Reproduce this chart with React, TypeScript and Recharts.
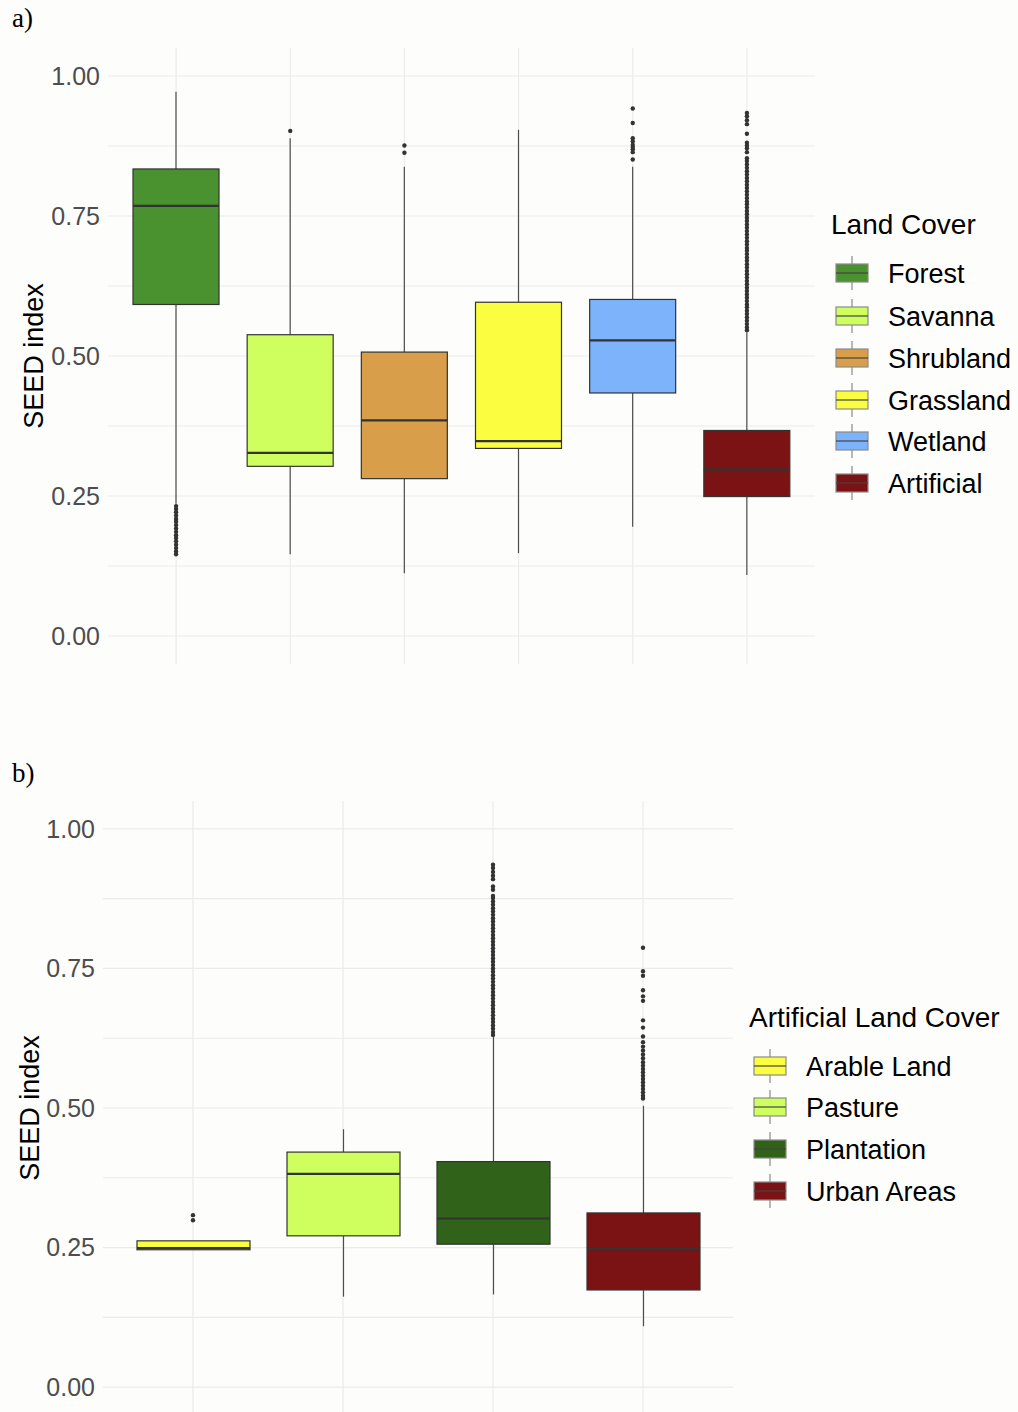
import React from "react";
import { ComposedChart, Bar, Scatter, XAxis, YAxis, CartesianGrid } from "recharts";

const FONT = '"Liberation Sans", Arial, sans-serif';
const TICKS = [0, 0.125, 0.25, 0.375, 0.5, 0.625, 0.75, 0.875, 1];
const MAJOR = [0, 0.25, 0.5, 0.75, 1];

// a) land cover
const landNames = ["Forest", "Savanna", "Shrubland", "Grassland", "Wetland", "Artificial"];
const landColors = ["#4a912f", "#cfff5f", "#d99e4a", "#fbfd40", "#7db3fa", "#7b1314"];
const landMin = [0.236, 0.146, 0.112, 0.148, 0.195, 0.109];
const landQ1 = [0.592, 0.303, 0.281, 0.335, 0.434, 0.249];
const landMedian = [0.768, 0.327, 0.385, 0.348, 0.528, 0.297];
const landQ3 = [0.834, 0.538, 0.507, 0.596, 0.601, 0.367];
const landMax = [0.972, 0.889, 0.838, 0.904, 0.838, 0.542];

const forestOutliers = [0.232, 0.227, 0.221, 0.215, 0.209, 0.204, 0.198, 0.192, 0.186, 0.18, 0.175, 0.169, 0.163, 0.157, 0.151, 0.146];
const savannaOutliers = [0.902];
const shrublandOutliers = [0.876, 0.863];
const grasslandOutliers: number[] = [];
const wetlandOutliers = [0.942, 0.916, 0.889, 0.883, 0.877, 0.873, 0.869, 0.864, 0.851];
const artificialOutliers = [
  0.934, 0.928, 0.921, 0.914, 0.897, 0.881, 0.876, 0.871, 0.864,
  0.853, 0.848, 0.842, 0.836, 0.83, 0.824, 0.818, 0.812, 0.806, 0.8, 0.794, 0.788, 0.782,
  0.776, 0.771, 0.765, 0.759, 0.753, 0.747, 0.741, 0.735, 0.729, 0.723, 0.717, 0.711,
  0.705, 0.699, 0.693, 0.688, 0.682, 0.676, 0.67, 0.664, 0.658, 0.652, 0.646, 0.64,
  0.634, 0.628, 0.622, 0.616, 0.61, 0.604, 0.598, 0.592, 0.587, 0.581, 0.575, 0.569,
  0.563, 0.557, 0.551, 0.546,
];

// b) artificial land cover
const artNames = ["Arable Land", "Pasture", "Plantation", "Urban Areas"];
const artColors = ["#fbfd40", "#cfff5f", "#31621a", "#7b1314"];
const artMin = [0.246, 0.162, 0.166, 0.109];
const artQ1 = [0.246, 0.271, 0.256, 0.174];
const artMedian = [0.249, 0.382, 0.302, 0.247];
const artQ3 = [0.262, 0.421, 0.404, 0.312];
const artMax = [0.262, 0.462, 0.628, 0.504];

const arableOutliers = [0.308, 0.299];
const pastureOutliers: number[] = [];
const plantationOutliers = [
  0.936, 0.93, 0.923, 0.916, 0.91, 0.897, 0.891, 0.88, 0.876,
  0.87, 0.864, 0.858, 0.852, 0.846, 0.84, 0.834, 0.828, 0.822, 0.816, 0.81, 0.804,
  0.798, 0.792, 0.786, 0.78, 0.774, 0.768, 0.762, 0.756, 0.75, 0.744, 0.738, 0.732,
  0.726, 0.72, 0.714, 0.708, 0.702, 0.696, 0.69, 0.684, 0.678, 0.672, 0.666, 0.66,
  0.654, 0.648, 0.642, 0.636, 0.631,
];
const urbanOutliers = [
  0.787, 0.745, 0.737, 0.711, 0.7, 0.692, 0.657, 0.644, 0.628, 0.618, 0.61, 0.603,
  0.596, 0.589, 0.582, 0.576, 0.57, 0.564, 0.558, 0.552, 0.546, 0.54, 0.534, 0.528,
  0.522, 0.517,
];

function buildRows(names: string[], colors: string[], mins: number[], q1s: number[], meds: number[], q3s: number[], maxs: number[]) {
  return names.map((name, i) => ({
    name,
    color: colors[i],
    min: mins[i],
    q1: q1s[i],
    median: meds[i],
    q3: q3s[i],
    max: maxs[i],
    iqr: q3s[i] - q1s[i],
  }));
}

function buildOutliers(names: string[], lists: number[][]) {
  return names.flatMap((name, i) => lists[i].map((value) => ({ name, value })));
}

const landRows = buildRows(landNames, landColors, landMin, landQ1, landMedian, landQ3, landMax);
const landOut = buildOutliers(landNames, [forestOutliers, savannaOutliers, shrublandOutliers, grasslandOutliers, wetlandOutliers, artificialOutliers]);
const artRows = buildRows(artNames, artColors, artMin, artQ1, artMedian, artQ3, artMax);
const artOut = buildOutliers(artNames, [arableOutliers, pastureOutliers, plantationOutliers, urbanOutliers]);

function BoxShape(props: any) {
  const { x, y, width, height, payload } = props;
  const { q1, q3, min, max, median, color } = payload;
  const ppu = height / (q3 - q1);
  const cx = x + width / 2;
  const yMax = y - (max - q3) * ppu;
  const yMin = y + height + (q1 - min) * ppu;
  const yMed = y + (q3 - median) * ppu;
  return (
    <g>
      <line x1={cx} x2={cx} y1={yMax} y2={y} stroke="#4d4d4d" strokeWidth={1.2} />
      <line x1={cx} x2={cx} y1={y + height} y2={yMin} stroke="#4d4d4d" strokeWidth={1.2} />
      <rect x={x} y={y} width={width} height={height} fill={color} stroke="#333" strokeWidth={1.2} />
      <line x1={x} x2={x + width} y1={yMed} y2={yMed} stroke="#333" strokeWidth={2.2} />
    </g>
  );
}

const OutlierDot = (p: any) => <circle cx={p.cx} cy={p.cy} r={2.2} fill="#333" />;
const NoTick = () => <g />;

type PanelProps = {
  rows: any[];
  outliers: any[];
  height: number;
  margin: { top: number; right: number; bottom: number; left: number };
  yAxisWidth: number;
  barSize: number;
  xPad: number;
  labelX: number;
};

function BoxPanel({ rows, outliers, height, margin, yAxisWidth, barSize, xPad, labelX }: PanelProps) {
  const cy = margin.top + (height - margin.top - margin.bottom) / 2;
  return (
    <ComposedChart width={1018} height={height} data={rows} margin={margin}>
      <CartesianGrid stroke="#ebebeb" strokeWidth={1.2} syncWithTicks />
      <XAxis
        dataKey="name"
        type="category"
        allowDuplicatedCategory={false}
        interval={0}
        tick={NoTick}
        tickLine={false}
        axisLine={false}
        height={0}
        padding={{ left: xPad, right: xPad }}
      />
      <YAxis
        type="number"
        domain={[-0.05, 1.05]}
        ticks={TICKS}
        interval={0}
        allowDataOverflow
        tickFormatter={(v: number) => (MAJOR.includes(v) ? v.toFixed(2) : "")}
        tick={{ fill: "#4d4d4d", fontSize: 25, fontFamily: FONT }}
        tickLine={false}
        axisLine={false}
        width={yAxisWidth}
        label={{
          content: () => (
            <text
              x={labelX}
              y={cy}
              transform={`rotate(-90 ${labelX} ${cy})`}
              textAnchor="middle"
              fontSize={27}
              fontFamily={FONT}
              fill="#000"
            >
              SEED index
            </text>
          ),
        }}
      />
      <Bar dataKey="q1" stackId="box" fill="none" barSize={barSize} isAnimationActive={false} />
      <Bar dataKey="iqr" stackId="box" barSize={barSize} shape={<BoxShape />} isAnimationActive={false} />
      <Scatter data={outliers} dataKey="value" shape={OutlierDot} isAnimationActive={false} />
    </ComposedChart>
  );
}

function LegendKey({ x, cy, color }: { x: number; cy: number; color: string }) {
  return (
    <g>
      <line x1={x + 16} x2={x + 16} y1={cy - 17} y2={cy + 17} stroke="#8a8a8a" strokeWidth={1.2} />
      <rect x={x} y={cy - 9} width={32} height={18} fill={color} stroke="#8a8a8a" strokeWidth={1.2} />
      <line x1={x} x2={x + 32} y1={cy} y2={cy} stroke="#444" strokeWidth={1.2} />
    </g>
  );
}

function LegendBlock({ title, names, colors, titleX, titleY, keyX, labelX, centers }: any) {
  return (
    <svg width={1018} height={1412} style={{ position: "absolute", left: 0, top: 0, pointerEvents: "none" }}>
      <text x={titleX} y={titleY} fontSize={28} fontFamily={FONT} fill="#000">
        {title}
      </text>
      {names.map((n: string, i: number) => (
        <g key={n}>
          <LegendKey x={keyX} cy={centers[i]} color={colors[i]} />
          <text x={labelX} y={centers[i] + 9.7} fontSize={27} fontFamily={FONT} fill="#000">
            {n}
          </text>
        </g>
      ))}
    </svg>
  );
}

const panelLabel: React.CSSProperties = {
  position: "absolute",
  left: 12,
  fontFamily: '"Liberation Serif", "Times New Roman", serif',
  fontSize: 27,
  lineHeight: 1,
  color: "#000",
};

export default function App() {
  return (
    <div style={{ position: "absolute", left: 0, top: 0, width: 1018, height: 1412, background: "#fdfdfb", overflow: "hidden" }}>
      <div style={{ ...panelLabel, top: 5 }}>a)</div>
      <div style={{ ...panelLabel, top: 760 }}>b)</div>
      <div style={{ position: "absolute", left: 0, top: 0 }}>
        <BoxPanel
          rows={landRows}
          outliers={landOut}
          height={680}
          margin={{ top: 48, right: 203, bottom: 16, left: 0 }}
          yAxisWidth={108}
          barSize={86}
          xPad={11}
          labelX={43}
        />
      </div>
      <div style={{ position: "absolute", left: 0, top: 760 }}>
        <BoxPanel
          rows={artRows}
          outliers={artOut}
          height={660}
          margin={{ top: 41, right: 285, bottom: 5, left: 0 }}
          yAxisWidth={103}
          barSize={113}
          xPad={15}
          labelX={39}
        />
      </div>
      <LegendBlock
        title="Land Cover"
        names={landNames}
        colors={landColors}
        titleX={831}
        titleY={234}
        keyX={836}
        labelX={888}
        centers={[273, 316, 358, 400, 441, 483]}
      />
      <LegendBlock
        title="Artificial Land Cover"
        names={artNames}
        colors={artColors}
        titleX={749}
        titleY={1027}
        keyX={754}
        labelX={806}
        centers={[1066, 1107, 1149, 1191]}
      />
    </div>
  );
}
